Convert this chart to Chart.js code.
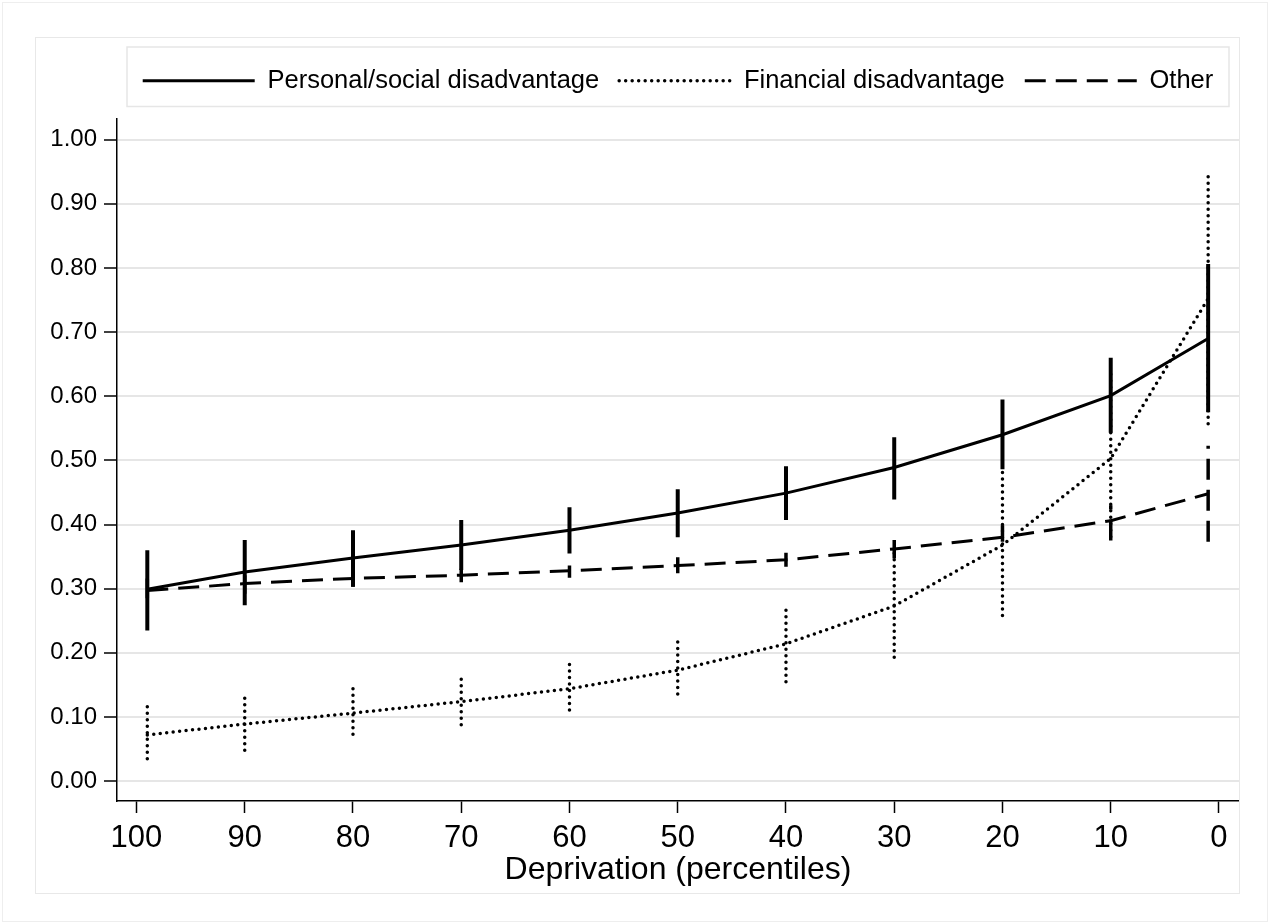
<!DOCTYPE html>
<html>
<head>
<meta charset="utf-8">
<script src="https://cdn.jsdelivr.net/npm/chart.js@4.4.1/dist/chart.umd.min.js"></script>
<style>
  html, body { margin: 0; padding: 0; background: #fff; }
  #page { position: relative; width: 1270px; height: 924px; overflow: hidden; }
  #outer { position: absolute; left: 2px; top: 2px; width: 1264px; height: 918px; border: 1px solid #eeeeee; }
  #panel { position: absolute; left: 35px; top: 37px; width: 1203px; height: 855px; border: 1px solid #e8e8e8; }
  #chart { position: absolute; left: 36px; top: 38px; }
</style>
</head>
<body>
<div id="page">
  <div id="outer"></div>
  <div id="panel"></div>
  <canvas id="chart" width="1203" height="855"></canvas>
</div>
<script>
// percentile positions of the estimates
const xVals = [99, 90, 80, 70, 60, 50, 40, 30, 20, 10, 1];

// Personal/social disadvantage (solid) with CI
const personal   = [0.299, 0.326, 0.348, 0.368, 0.391, 0.418, 0.449, 0.489, 0.540, 0.601, 0.690];
const personalLo = [0.235, 0.274, 0.303, 0.329, 0.355, 0.380, 0.407, 0.439, 0.486, 0.543, 0.575];
const personalHi = [0.360, 0.376, 0.391, 0.407, 0.427, 0.455, 0.491, 0.536, 0.595, 0.660, 0.806];

// Financial disadvantage (dotted)
const financial   = [0.072, 0.089, 0.106, 0.124, 0.144, 0.173, 0.214, 0.273, 0.368, 0.503, 0.752];
const financialLo = [0.035, 0.048, 0.073, 0.088, 0.111, 0.136, 0.155, 0.193, 0.258, 0.381, 0.557];
const financialHi = [0.118, 0.132, 0.145, 0.163, 0.184, 0.220, 0.275, 0.365, 0.485, 0.640, 0.952];

// Other (dashed)
const other   = [0.297, 0.308, 0.316, 0.321, 0.328, 0.336, 0.345, 0.362, 0.380, 0.406, 0.448];
const otherLo = [0.285, 0.292, 0.303, 0.310, 0.317, 0.324, 0.334, 0.347, 0.373, 0.375, 0.373];
const otherHi = [0.316, 0.321, 0.325, 0.331, 0.336, 0.349, 0.356, 0.376, 0.399, 0.430, 0.523];

const seriesLabels = ['Personal/social disadvantage', 'Financial disadvantage', 'Other'];
const xTicks = [100, 90, 80, 70, 60, 50, 40, 30, 20, 10, 0];
const yTicks = [0, 0.1, 0.2, 0.3, 0.4, 0.5, 0.6, 0.7, 0.8, 0.9, 1.0];

const FONT = "'Liberation Sans', Arial, sans-serif";
Chart.defaults.font.family = FONT;
Chart.defaults.color = '#000';

// line styles
const SOLID = [];
const DOTTED = [0, 6.5];
const DASHED = [21, 10];

function points(ys) {
  return xVals.map((x, i) => ({x: x, y: ys[i]}));
}
// error bars: one vertical segment per estimate, separated by gaps
function bars(lo, hi) {
  let out = [];
  xVals.forEach((x, i) => {
    out.push({x: x, y: lo[i]});
    out.push({x: x, y: hi[i]});
    out.push({x: x, y: null});
  });
  return out;
}

function lineSet(label, ys, dash, width) {
  return {
    label: label, isSeries: true,
    data: points(ys),
    borderColor: '#000', backgroundColor: '#000',
    borderWidth: width, borderDash: dash,
    borderCapStyle: dash === DOTTED ? 'round' : 'butt',
    pointRadius: 0, tension: 0, fill: false
  };
}
function barSet(lo, hi, dash, width) {
  return {
    label: '', isSeries: false,
    data: bars(lo, hi),
    borderColor: '#000', backgroundColor: '#000',
    borderWidth: width, borderDash: dash,
    borderCapStyle: dash === DOTTED ? 'round' : 'butt',
    pointRadius: 0, tension: 0, fill: false, spanGaps: false
  };
}

const legendBox = {
  id: 'legendBox',
  afterDraw(chart) {
    const lg = chart.legend;
    if (!lg) return;
    const ctx = chart.ctx;
    ctx.save();
    ctx.strokeStyle = '#e6e6e6';
    ctx.lineWidth = 1.5;
    ctx.setLineDash([]);
    ctx.strokeRect(lg.left + 10, lg.top - 1, lg.right - lg.left - 20, lg.bottom - lg.top + 4);
    ctx.restore();
  }
};

new Chart(document.getElementById('chart'), {
  type: 'line',
  data: {
    datasets: [
      lineSet(seriesLabels[0], personal, SOLID, 3),
      lineSet(seriesLabels[1], financial, DOTTED, 3.5),
      lineSet(seriesLabels[2], other, DASHED, 3),
      barSet(personalLo, personalHi, SOLID, 4),
      barSet(financialLo, financialHi, DOTTED, 3.5),
      barSet(otherLo, otherHi, DASHED, 3.5)
    ]
  },
  options: {
    responsive: false,
    animation: false,
    layout: { padding: { top: 10, left: 0, right: 0, bottom: 0 } },
    plugins: {
      tooltip: { enabled: false },
      legend: {
        display: true,
        position: 'top',
        fullSize: false,
        labels: {
          usePointStyle: true,
          pointStyleWidth: 112,
          boxWidth: 112,
          padding: 20,
          font: { size: 25.5, family: FONT },
          color: '#000',
          generateLabels(chart) {
            return chart.data.datasets
              .map((ds, i) => ({
                text: ds.label, datasetIndex: i, hidden: false,
                strokeStyle: '#000', fillStyle: '#000', fontColor: '#000',
                lineWidth: ds.borderWidth, lineDash: ds.borderDash,
                lineCap: ds.borderCapStyle, pointStyle: 'line', isSeries: ds.isSeries
              }))
              .filter(it => it.isSeries);
          }
        }
      },
      // empty spacer between legend and plot region
      title: {
        display: true, text: '', position: 'top', weight: 500, fullSize: false,
        font: { size: 1, lineHeight: 1 }, padding: { top: 14, bottom: 0 }
      }
    },
    scales: {
      x: {
        type: 'linear',
        reverse: true,
        min: -1.85,
        max: 101.8,
        afterBuildTicks(scale) { scale.ticks = xTicks.map(v => ({value: v})); },
        afterFit(scale) { scale.height = 92; },
        ticks: {
          font: { size: 31, family: FONT },
          color: '#000',
          padding: 7,
          maxRotation: 0,
          autoSkip: false,
          callback: v => String(v)
        },
        grid: {
          display: true, drawOnChartArea: false, drawTicks: true,
          tickLength: 12, tickColor: '#000', tickWidth: 1.5
        },
        border: { display: true, color: '#000', width: 1.5 },
        title: {
          display: true, text: 'Deprivation (percentiles)', color: '#000',
          font: { size: 32, family: FONT, lineHeight: 1.2 },
          padding: { top: 0, bottom: 4 }
        }
      },
      y: {
        type: 'linear',
        min: -0.031,
        max: 1.033,
        afterBuildTicks(scale) { scale.ticks = yTicks.map(v => ({value: v})); },
        afterFit(scale) { scale.width = 81; },
        ticks: {
          font: { size: 24, family: FONT },
          color: '#000',
          padding: 7,
          autoSkip: false,
          callback: v => Number(v).toFixed(2)
        },
        grid: {
          display: true, drawOnChartArea: true, drawTicks: true,
          color: '#e6e6e6', lineWidth: 2,
          tickLength: 13, tickColor: '#000', tickWidth: 1.5
        },
        border: { display: true, color: '#000', width: 1.5 }
      }
    }
  },
  plugins: [legendBox]
});
</script>
</body>
</html>
